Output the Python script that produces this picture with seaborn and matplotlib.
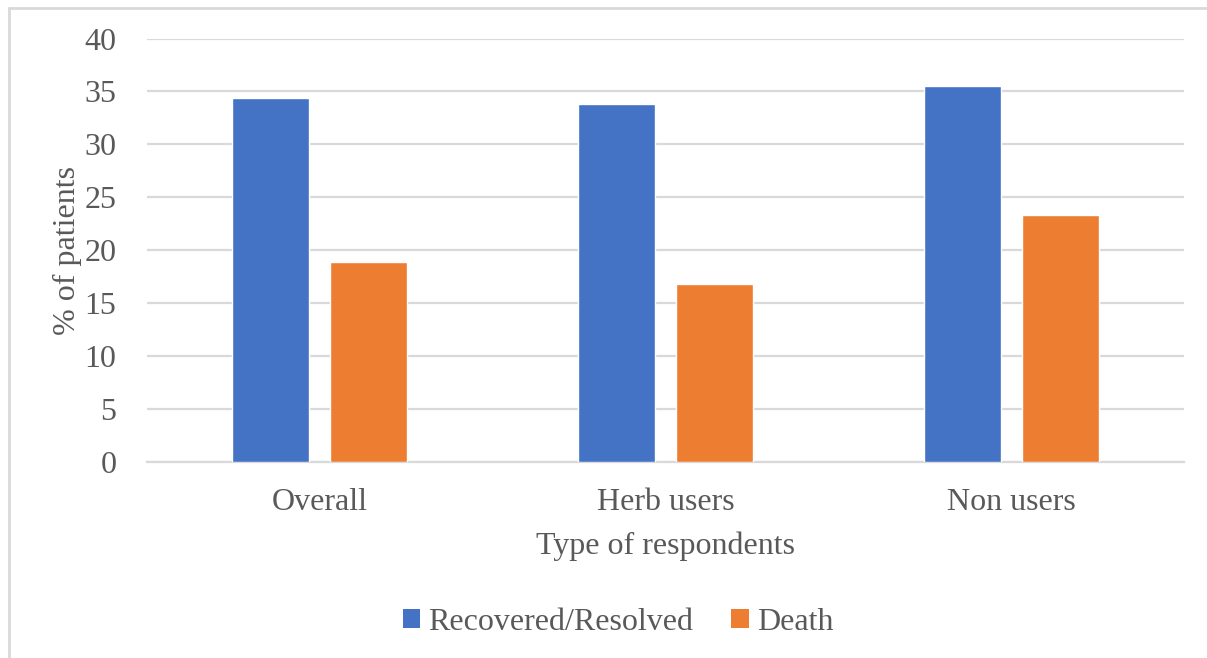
import matplotlib
matplotlib.use("Agg")
import matplotlib.pyplot as plt
from matplotlib.lines import Line2D
from matplotlib.patches import Patch
import seaborn as sns
import pandas as pd

# Outcome shares by respondent group
groups = ["Overall", "Herb users", "Non users"]
recovered = [34.4, 33.8, 35.5]
death = [18.9, 16.8, 23.3]
outcomes = ["Recovered/Resolved", "Death"]
colors = ["#4472C4", "#ED7D31"]
yticks = [0, 5, 10, 15, 20, 25, 30, 35, 40]

df = pd.DataFrame({
    "group": groups * 2,
    "outcome": [outcomes[0]] * 3 + [outcomes[1]] * 3,
    "value": recovered + death,
})

sns.set_theme(style="white")
plt.rcParams["font.family"] = ["Liberation Serif", "DejaVu Serif"]
text_color = "#595959"
grid_color = "#d9d9d9"
fs = 23

W, H = 1207, 658
fig = plt.figure(figsize=(W / 100, H / 100), dpi=100)
ax = fig.add_axes([147 / W, 1 - 462 / H, (1184 - 147) / W, (462 - 38.5) / H])

sns.barplot(data=df, x="group", y="value", hue="outcome", order=groups,
            hue_order=outcomes, palette=colors, width=0.567, gap=0.215,
            saturation=1, errorbar=None, legend=False, ax=ax, zorder=3)

ax.set_xlim(-0.5, 2.5)
ax.set_ylim(0, 40)
ax.set_yticks(yticks)
ax.set_yticklabels([str(t) for t in yticks])
ax.yaxis.grid(True, color=grid_color, linewidth=1.6, zorder=0)
ax.set_axisbelow(True)
for side in ["top", "right", "left"]:
    ax.spines[side].set_visible(False)
ax.spines["bottom"].set_color(grid_color)
ax.spines["bottom"].set_linewidth(1.6)
ax.tick_params(axis="both", length=0, labelsize=fs, colors=text_color)
ax.tick_params(axis="y", pad=22)
ax.tick_params(axis="x", pad=19)

ax.set_xlabel("Type of respondents", fontsize=fs, color=text_color, labelpad=10)
ax.set_ylabel("% of patients", fontsize=fs, color=text_color, labelpad=2)

handles = [Patch(facecolor=c, edgecolor="none") for c in colors]
fig.legend(handles, outcomes, loc="center", bbox_to_anchor=(0.512, 1 - 622 / H),
           ncol=2, frameon=False, fontsize=fs, labelcolor=text_color,
           handlelength=0.55, handleheight=0.55, handletextpad=0.25,
           columnspacing=1.2)

# Outer chart frame (top and left edges)
fig.add_artist(Line2D([9 / W, 1], [1 - 8 / H, 1 - 8 / H], transform=fig.transFigure,
                      color=grid_color, linewidth=2))
fig.add_artist(Line2D([9 / W, 9 / W], [0, 1 - 8 / H], transform=fig.transFigure,
                      color=grid_color, linewidth=2))

fig.savefig("out.png", dpi=100)
